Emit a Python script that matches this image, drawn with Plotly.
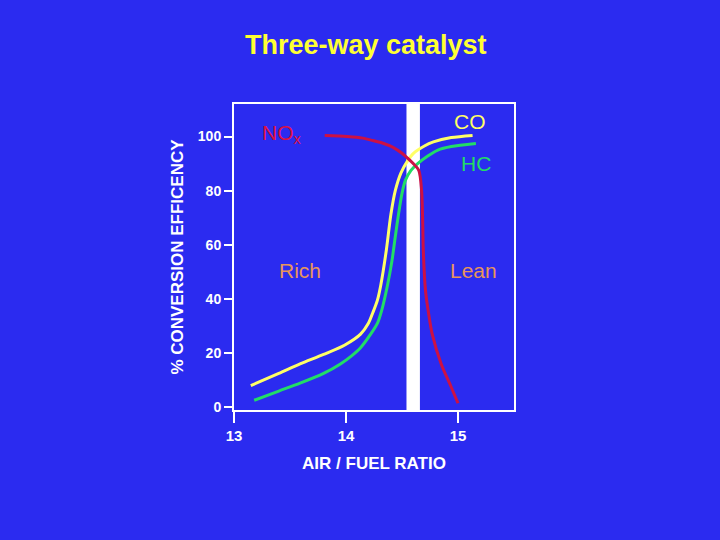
import plotly.graph_objects as go

# values
co_x = [13.15, 13.4, 13.59, 13.8, 13.99, 14.13, 14.2, 14.24, 14.28, 14.31, 14.36, 14.40,
        14.44, 14.49, 14.55, 14.60, 14.70, 14.78, 14.94, 15.13]
co_y = [8, 12.5, 16, 19.5, 23, 27, 31, 35, 39.5, 45, 58, 71,
        80, 86.5, 91, 93.7, 96.5, 98, 99.6, 100.4]

hc_x = [13.18, 13.4, 13.59, 13.8, 13.95, 14.05, 14.13, 14.22, 14.28, 14.32, 14.37, 14.41,
        14.44, 14.47, 14.50, 14.53, 14.58, 14.64, 14.73, 14.82, 14.94, 15.16]
hc_y = [2.6, 6, 8.9, 12.5, 16, 19, 22, 27, 31, 36, 45, 54,
        63, 71.6, 79, 83.8, 87.5, 90, 92.8, 95, 96.3, 97.4]

nox_x = [13.81, 14.01, 14.15, 14.24, 14.33, 14.42, 14.50, 14.55, 14.60, 14.65, 14.675,
         14.685, 14.69, 14.71, 14.74, 14.77, 14.85, 14.94, 15.0]
nox_y = [100.4, 100, 99.4, 98.5, 97.5, 96, 93.8, 92, 90, 87.5, 80,
         68, 58, 43, 34, 27, 16, 7.4, 1.5]

x_ticks = [13, 14, 15]
y_ticks = [0, 20, 40, 60, 80, 100]
window = (14.54, 14.66)  # stoichiometric band

BG = '#2B2BF0'
FONT = 'Arial, Liberation Sans, sans-serif'

fig = go.Figure()

for xs, ys, col in [(co_x, co_y, '#FFFF66'), (hc_x, hc_y, '#22DD66'), (nox_x, nox_y, '#CC1144')]:
    fig.add_trace(go.Scatter(
        x=xs, y=ys, mode='lines',
        line=dict(color=col, width=3, shape='spline', smoothing=0.8),
        hoverinfo='skip', showlegend=False
    ))

# white band at the ideal ratio
fig.add_shape(type='rect', x0=window[0], x1=window[1], yref='paper', y0=0, y1=1,
              fillcolor='white', line=dict(width=0), layer='below')

labels = [
    (13.43, 101, 'NO<sub>x</sub>', '#DD1144'),
    (15.11, 105.5, 'CO', '#FFFF66'),
    (15.16, 90, 'HC', '#22DD66'),
    (13.59, 50.5, 'Rich', '#E8955A'),
    (15.14, 50.5, 'Lean', '#E8955A'),
]
for x, y, txt, col in labels:
    fig.add_annotation(x=x, y=y, text=txt, showarrow=False,
                       font=dict(size=21, color=col, family=FONT))

fig.update_layout(
    width=720, height=540,
    margin=dict(l=234, r=206, t=104, b=130),
    paper_bgcolor=BG, plot_bgcolor=BG,
    title=dict(text='Three-way catalyst', x=0.508, xanchor='center',
               y=0.917, yanchor='middle',
               font=dict(size=27, color='#FFFF33', family=FONT, weight='bold')),
    xaxis=dict(range=[13, 15.5], tickvals=x_ticks, ticks='outside', ticklen=11,
               tickwidth=2, tickcolor='white', showgrid=False, zeroline=False,
               showline=True, mirror=True, linecolor='white', linewidth=2,
               tickfont=dict(size=15, color='white', family=FONT, weight='bold'),
               title=dict(text='AIR / FUEL RATIO', standoff=14,
                          font=dict(size=17, color='white', family=FONT, weight='bold'))),
    yaxis=dict(range=[-1, 112], tickvals=y_ticks, ticks='outside', ticklen=8,
               tickwidth=2, tickcolor='white', showgrid=False, zeroline=False,
               showline=True, mirror=True, linecolor='white', linewidth=2,
               tickfont=dict(size=14, color='white', family=FONT, weight='bold'),
               title=dict(text='% CONVERSION EFFICENCY', standoff=10,
                          font=dict(size=17, color='white', family=FONT, weight='bold'))),
)

fig.write_html('out.html', config={'displayModeBar': False},
               post_script="document.body.style.margin='0';")
